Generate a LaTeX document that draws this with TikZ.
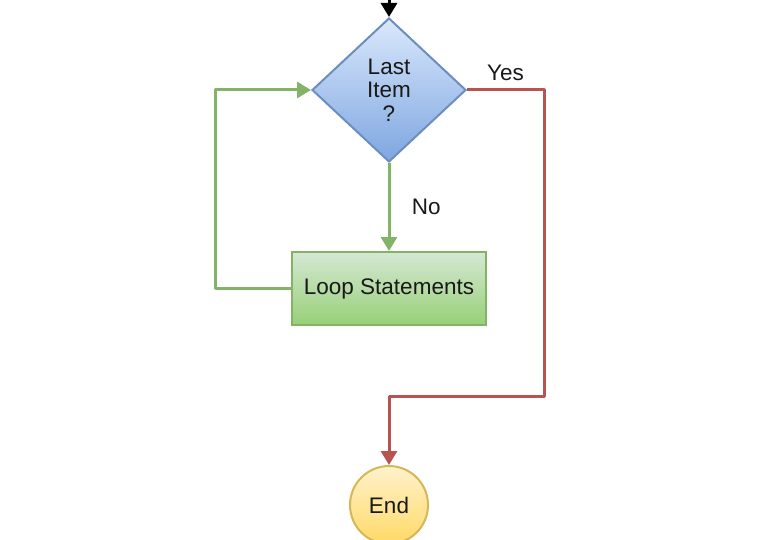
\documentclass[tikz,border=0pt]{standalone}
\usepackage{fontspec}
\setmainfont{Liberation Sans}
\usetikzlibrary{shapes.geometric,arrows.meta}
\definecolor{bluetop}{HTML}{DAE8FC}
\definecolor{bluebot}{HTML}{7EA6E0}
\definecolor{blueline}{HTML}{6C8EBF}
\definecolor{greentop}{HTML}{D5E8D4}
\definecolor{greenbot}{HTML}{97D077}
\definecolor{greenline}{HTML}{82B366}
\definecolor{yellowtop}{HTML}{FFF2CC}
\definecolor{yellowbot}{HTML}{FFD966}
\definecolor{yellowline}{HTML}{D6B656}
\definecolor{redline}{HTML}{B85450}
\tikzset{
  txt/.style={font=\fontsize{22.5}{23.5}\selectfont, text=black!90},
  dia/.style={shape=diamond, draw=blueline, line width=2pt, top color=bluetop, bottom color=bluebot,
    minimum width=154pt, minimum height=144pt, inner sep=0pt, align=center, txt},
  loopbox/.style={shape=rectangle, draw=greenline, line width=2pt, top color=greentop, bottom color=greenbot,
    minimum width=194pt, minimum height=73pt, inner sep=0pt, txt},
  endc/.style={shape=circle, draw=yellowline, line width=2pt, top color=yellowtop, bottom color=yellowbot,
    minimum size=78pt, inner sep=0pt, txt},
  conn/.style={line width=3pt, line join=round, -{Triangle[width=16pt,length=14pt]}},
  grn/.style={conn, draw=greenline},
  rd/.style={conn, draw=redline},
  blk/.style={conn, draw=black},
}
\begin{document}
\begin{tikzpicture}[x=1pt,y=-1pt]
\useasboundingbox (0,0) rectangle (778,540);
\node[dia] (q) at (389,90) {Last\\Item\\?};
\node[loopbox] (loop) at (389,288.5) {Loop Statements};
\node[endc] (end) at (389,505) {End};
\coordinate (start) at (389,-2);
\draw[blk] (start) -- (q.north);
\draw[grn] (q.south) -- node[midway, right, xshift=18pt, txt] {No} (loop.north);
\draw[grn] (loop.west) -- ++(-76,0) |- (q.west);
\draw[rd] (q.east) -- node[midway, above, yshift=4pt, txt] {Yes} ++(77,0) -- ++(0,306) -| (end.north);
\end{tikzpicture}
\end{document}
